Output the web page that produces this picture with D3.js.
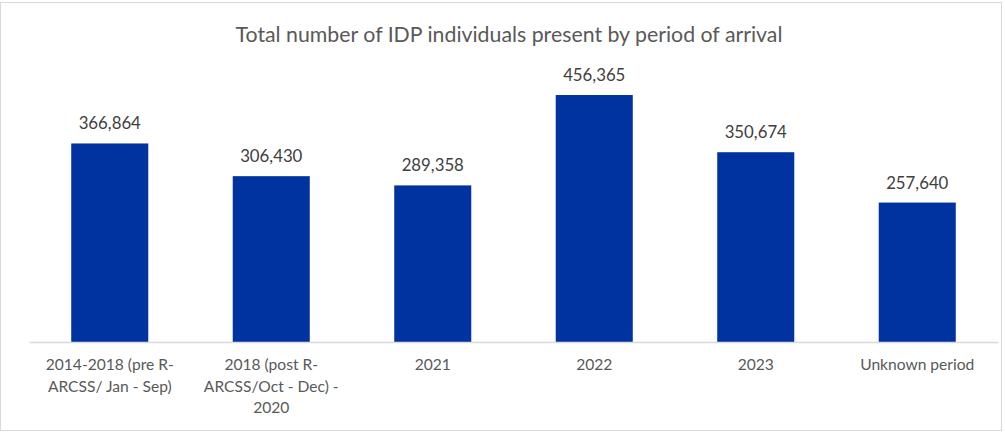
<!DOCTYPE html>
<html><head><meta charset="utf-8">
<script src="https://cdn.jsdelivr.net/npm/d3@7"></script>
<style>body{margin:0;background:#fff;} svg{display:block;}</style>
</head><body>
<svg id="chart" width="1005" height="432"></svg>
<script>
const categories = [
  ["2014-2018 (pre R-", "ARCSS/ Jan - Sep)"],
  ["2018 (post R-", "ARCSS/Oct - Dec) -", "2020"],
  ["2021"],
  ["2022"],
  ["2023"],
  ["Unknown period"]
];
const values = [366864, 306430, 289358, 456365, 350674, 257640];
const title = "Total number of IDP individuals present by period of arrival";

const svg = d3.select("#chart");
const font = "Lato, 'Open Sans', sans-serif";
svg.append("rect").attr("x",0.5).attr("y",2.5).attr("width",1001).attr("height",428)
  .attr("fill","#fff").attr("stroke","#d9d9d9").attr("stroke-width",1);

const x = d3.scaleBand().domain(d3.range(categories.length)).range([29, 998]).paddingInner(0.523).paddingOuter(0.2615);
const y = d3.scaleLinear().domain([0, 500000]).range([342, 342 - 270.6]);

svg.append("text").attr("x", 509).attr("y", 42).attr("text-anchor","middle")
  .attr("font-family", font).attr("font-size", 21.3).attr("fill","#595959").text(title);

svg.selectAll("rect.bar").data(values).join("rect").attr("class","bar")
  .attr("x",(d,i)=>x(i)).attr("width",x.bandwidth())
  .attr("y",d=>y(d)).attr("height",d=>y(0)-y(d)).attr("fill","#0033a0");

svg.selectAll("text.val").data(values).join("text").attr("class","val")
  .attr("x",(d,i)=>x(i)+x.bandwidth()/2).attr("y",d=>y(d)-14)
  .attr("text-anchor","middle").attr("font-family",font).attr("font-size",16.8).attr("fill","#404040")
  .text(d=>d3.format(",")(d));

const ax = svg.append("g").attr("transform","translate(0,342)")
  .call(d3.axisBottom(x).tickSize(0).tickFormat(""));
ax.select(".domain").attr("stroke","#d9d9d9").attr("stroke-width",1.3);

const lab = svg.selectAll("text.cat").data(categories).join("text").attr("class","cat")
  .attr("text-anchor","middle").attr("font-family",font).attr("font-size",15.6).attr("fill","#595959");
lab.each(function(lines,i){
  const t = d3.select(this);
  lines.forEach((l,j)=>t.append("tspan").attr("x",x(i)+x.bandwidth()/2).attr("y",370+j*21.5).text(l));
});
</script>
</body></html>
